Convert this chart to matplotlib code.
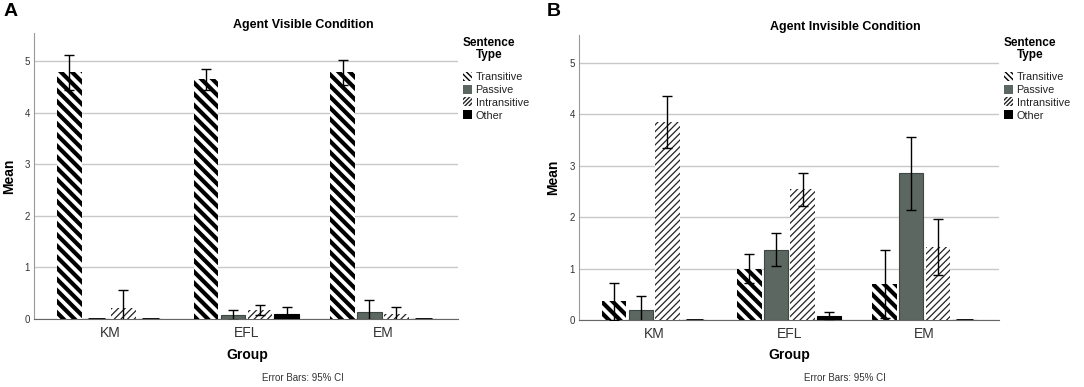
import numpy as np
import matplotlib.pyplot as plt
from matplotlib.patches import Patch

plt.rcParams['font.family'] = ['Liberation Sans', 'DejaVu Sans']

groups = ['KM', 'EFL', 'EM']
types = ['Transitive', 'Passive', 'Intransitive', 'Other']

# means, one list per sentence type (KM, EFL, EM)
vis_means = {
    'Transitive': [4.78, 4.64, 4.78],
    'Passive': [0.0, 0.08, 0.14],
    'Intransitive': [0.21, 0.17, 0.09],
    'Other': [0.0, 0.10, 0.0],
}
vis_ci = {
    'Transitive': [0.34, 0.21, 0.24],
    'Passive': [0.0, 0.10, 0.22],
    'Intransitive': [0.35, 0.10, 0.14],
    'Other': [0.0, 0.13, 0.0],
}
invis_means = {
    'Transitive': [0.36, 1.00, 0.70],
    'Passive': [0.20, 1.37, 2.85],
    'Intransitive': [3.85, 2.54, 1.42],
    'Other': [0.0, 0.07, 0.0],
}
invis_ci = {
    'Transitive': [0.36, 0.28, 0.67],
    'Passive': [0.27, 0.33, 0.71],
    'Intransitive': [0.50, 0.32, 0.55],
    'Other': [0.0, 0.08, 0.0],
}

# bar style, plus a denser hatch for the small legend squares
styles = {
    'Transitive': dict(facecolor='white', hatch='\\\\\\', hlw=3.0, edgecolor='black', lw=0,
                       leg_hatch='\\\\\\\\\\\\', leg_hlw=1.8),
    'Passive': dict(facecolor='#5b6760', hatch=None, hlw=1.0, edgecolor='#3e4842', lw=0.8,
                    leg_hatch=None, leg_hlw=1.0),
    'Intransitive': dict(facecolor='white', hatch='/////', hlw=0.9, edgecolor='#222222', lw=0,
                         leg_hatch='////////', leg_hlw=0.8),
    'Other': dict(facecolor='black', hatch=None, hlw=1.0, edgecolor='black', lw=0.8,
                  leg_hatch=None, leg_hlw=1.0),
}

W, H = 1084, 387
fig = plt.figure(figsize=(W / 100, H / 100), dpi=100)


def set_hlw(patch, lw):
    try:
        patch.set_hatch_linewidth(lw)
    except AttributeError:
        pass


def draw_panel(rect, means, ci, title, title_xy, letter, letter_xy, leg_x, foot_x, group_x, mean_x):
    ax = fig.add_axes([rect[0] / W, 1 - rect[3] / H, (rect[2] - rect[0]) / W, (rect[3] - rect[1]) / H])
    x = np.arange(len(groups))
    step, width = 0.197, 0.18
    for i, t in enumerate(types):
        st = styles[t]
        pos = x + (i - 1.5) * step
        plt.rcParams['hatch.linewidth'] = st['hlw']
        bars = ax.bar(pos, means[t], width, color=st['facecolor'], edgecolor=st['edgecolor'],
                      hatch=st['hatch'], linewidth=st['lw'], zorder=3)
        for b in bars:
            set_hlw(b, st['hlw'])
        m = np.array(means[t])
        e = np.array(ci[t])
        # zero means show as a short black stroke on the baseline
        zero = m == 0
        ax.hlines(m[zero], pos[zero] - width * 0.35, pos[zero] + width * 0.35,
                  color='black', linewidth=2, zorder=4)
        keep = e > 0
        ax.errorbar(pos[keep], m[keep], yerr=e[keep], fmt='none', ecolor='black',
                    elinewidth=1.0, capsize=3.5, capthick=1.0, zorder=4)
    ax.set_xlim(-0.555, 2.55)
    ax.set_ylim(0, 5.54)
    ax.set_yticks(range(6))
    ax.set_xticks(x)
    ax.set_xticklabels(groups, fontsize=10, color='#333333')
    ax.tick_params(axis='y', length=0, labelsize=7, labelcolor='#333333', pad=3)
    ax.tick_params(axis='x', length=0, pad=5)
    ax.grid(axis='y', color='#c8c8c8', linewidth=1.0, zorder=0)
    ax.set_axisbelow(True)
    for s in ['top', 'right']:
        ax.spines[s].set_visible(False)
    ax.spines['left'].set_color('#999999')
    ax.spines['bottom'].set_color('#666666')
    ax.set_ylabel('Mean', fontsize=10, fontweight='bold')
    ax.yaxis.set_label_coords(mean_x, 0.5)

    fig.text(group_x / W, 1 - 355 / H, 'Group', ha='center', va='center', fontsize=10, fontweight='bold')
    fig.text(title_xy[0] / W, 1 - title_xy[1] / H, title, ha='center', va='center',
             fontsize=9, fontweight='bold')
    fig.text(letter_xy[0] / W, 1 - letter_xy[1] / H, letter, ha='left', va='center',
             fontsize=14, fontweight='bold')
    fig.text(foot_x / W, 1 - 378 / H, 'Error Bars: 95% CI', ha='center', va='center',
             fontsize=7, color='#333333')

    # legend
    fig.text((leg_x + 28) / W, 1 - 49 / H, 'Sentence\nType', ha='center', va='center',
             fontsize=8.5, fontweight='bold', linespacing=1.0)
    handles = []
    for t in types:
        st = styles[t]
        plt.rcParams['hatch.linewidth'] = st['leg_hlw']
        p = Patch(facecolor=st['facecolor'], edgecolor=st['edgecolor'],
                  hatch=st['leg_hatch'], linewidth=0)
        set_hlw(p, st['leg_hlw'])
        handles.append(p)
    leg = fig.legend(handles, types, loc='upper left',
                     bbox_to_anchor=((leg_x - 6) / W, 1 - 64 / H),
                     frameon=False, fontsize=7.8, handlelength=0.9, handleheight=0.9,
                     handletextpad=0.3, labelspacing=0.25, borderpad=0.2)
    for t in leg.get_texts():
        t.set_color('#222222')
    return ax


draw_panel((34, 33, 458, 319), vis_means, vis_ci, 'Agent Visible Condition', (303, 25),
           'A', (4, 12), 461, 303, 247, -0.042)
draw_panel((579, 35, 999, 320), invis_means, invis_ci, 'Agent Invisible Condition', (845, 27),
           'B', (547, 11), 1002, 845, 789, -0.045)

fig.savefig('out.png', dpi=100)
